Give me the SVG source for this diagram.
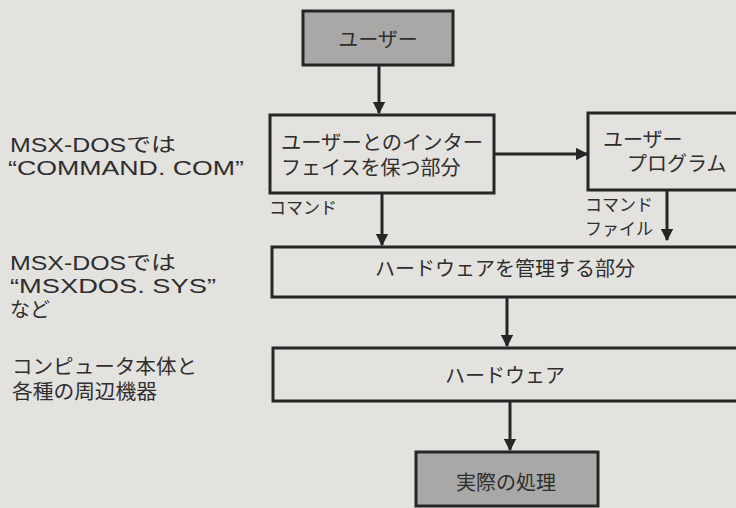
<svg xmlns="http://www.w3.org/2000/svg" width="736" height="508" viewBox="0 0 736 508">
<style>
text{font-family:"Liberation Sans","Noto Sans CJK JP",sans-serif;fill:#2e2e2e;font-size:20px}
.box{fill:none;stroke:#262626;stroke-width:3}
.grey{fill:#a9a8a6;stroke:#262626;stroke-width:3}
.con{stroke:#262626;stroke-width:3;fill:none}
.small{font-size:17px}
</style>
<defs>
<marker id="ah" viewBox="0 0 10 10" refX="9" refY="5" markerWidth="4.2" markerHeight="4.2" markerUnits="strokeWidth" orient="auto">
<path d="M0,0 L10,5 L0,10 z" fill="#262626"/>
</marker>
</defs>
<rect width="736" height="508" fill="#e3e2df"/>

<g id="side-labels">
<text x="10" y="152" textLength="166" lengthAdjust="spacingAndGlyphs">MSX-DOSでは</text>
<text x="8" y="175" textLength="236" lengthAdjust="spacingAndGlyphs">“COMMAND. COM”</text>
<text x="10" y="270" textLength="166" lengthAdjust="spacingAndGlyphs">MSX-DOSでは</text>
<text x="10" y="293" textLength="206" lengthAdjust="spacingAndGlyphs">“MSXDOS. SYS”</text>
<text x="10" y="317">など</text>
<text x="12" y="374" textLength="185" lengthAdjust="spacingAndGlyphs">コンピュータ本体と</text>
<text x="12" y="399" textLength="145" lengthAdjust="spacingAndGlyphs">各種の周辺機器</text>
</g>

<g id="user">
<rect class="grey" x="303" y="11" width="150" height="54"/>
<text x="378" y="47" text-anchor="middle">ユーザー</text>
</g>

<g id="interface">
<rect class="box" x="270" y="115" width="224" height="78"/>
<text x="281" y="150" textLength="202" lengthAdjust="spacingAndGlyphs">ユーザーとのインター</text>
<text x="281" y="175">フェイスを保つ部分</text>
</g>

<g id="userprog">
<rect class="box" x="588" y="113" width="160" height="77"/>
<text x="603" y="147">ユーザー</text>
<text x="627" y="171">プログラム</text>
</g>

<g id="hwmgr">
<rect class="box" x="272" y="247" width="476" height="50"/>
<text x="375" y="276" font-size="21">ハードウェアを管理する部分</text>
</g>

<g id="hardware">
<rect class="box" x="273" y="348" width="475" height="53"/>
<text x="445" y="383" font-size="21">ハードウェア</text>
</g>

<g id="process">
<rect class="grey" x="416" y="452" width="182" height="54"/>
<text x="506" y="490" text-anchor="middle">実際の処理</text>
</g>

<g id="connectors">
<line class="con" x1="379" y1="65" x2="379" y2="113" marker-end="url(#ah)"/>
<line class="con" x1="494" y1="154" x2="587" y2="154" marker-end="url(#ah)"/>
<line class="con" x1="382" y1="193" x2="382" y2="245" marker-end="url(#ah)"/>
<line class="con" x1="667" y1="190" x2="667" y2="240" marker-end="url(#ah)"/>
<line class="con" x1="507" y1="297" x2="507" y2="346" marker-end="url(#ah)"/>
<line class="con" x1="510" y1="401" x2="510" y2="450" marker-end="url(#ah)"/>
<text class="small" x="269" y="214">コマンド</text>
<text class="small" x="585" y="211">コマンド</text>
<text class="small" x="585" y="235">ファイル</text>
</g>
</svg>
